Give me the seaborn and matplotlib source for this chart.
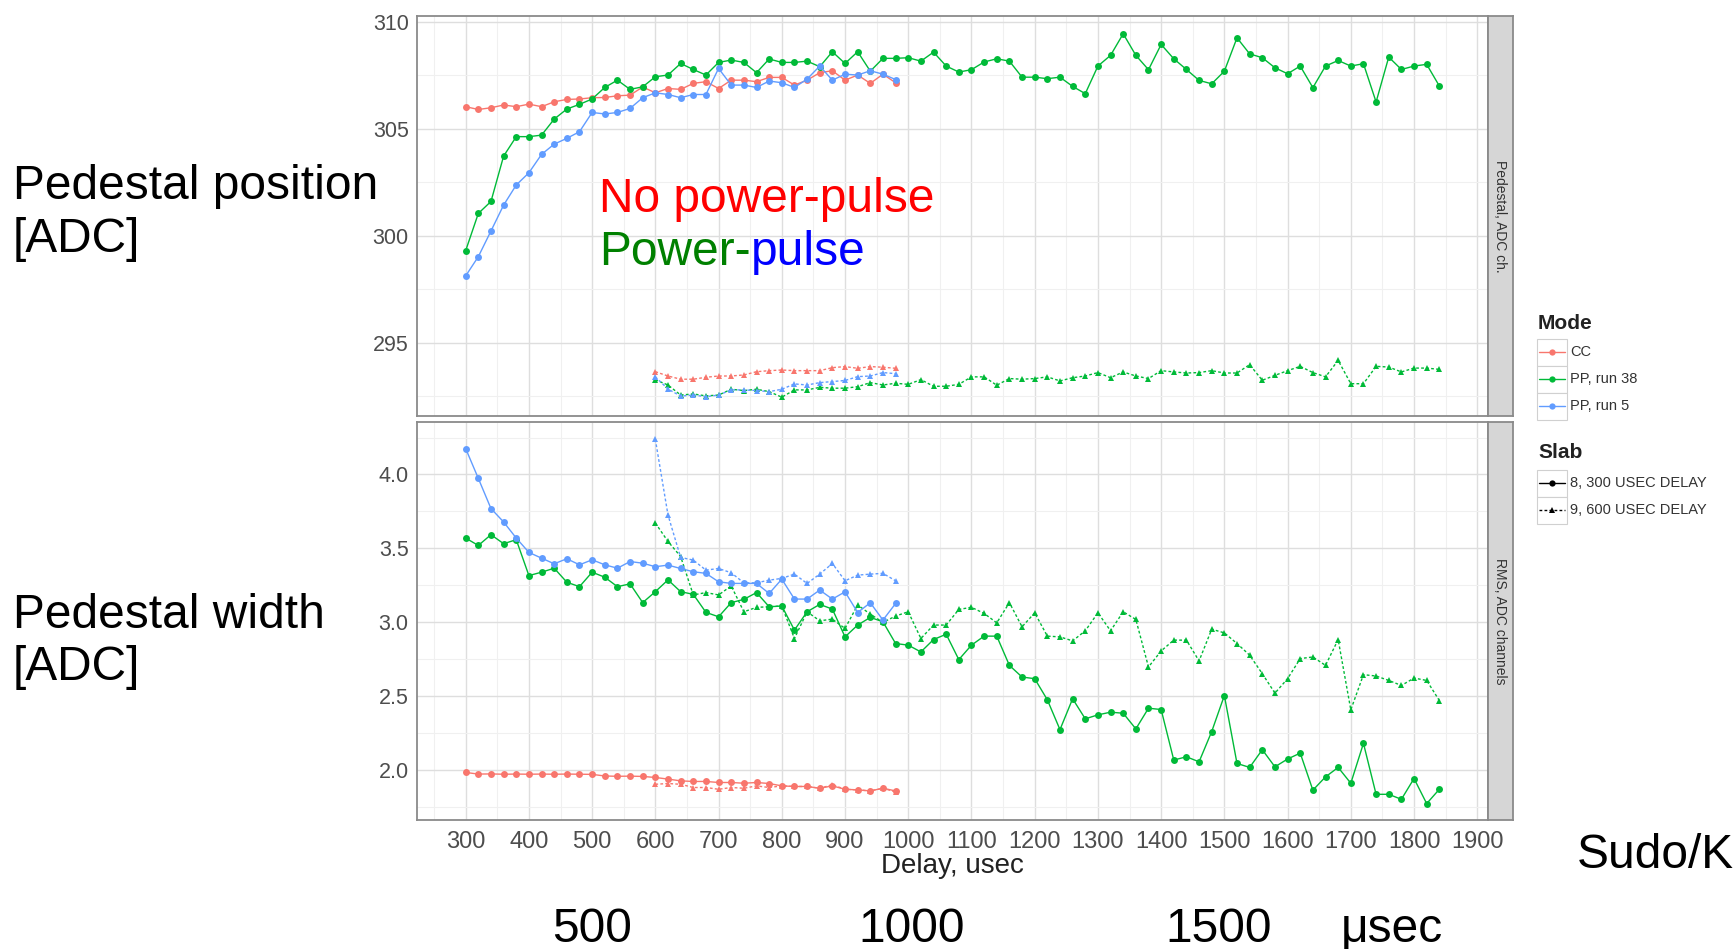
import numpy as np
import pandas as pd
import matplotlib
matplotlib.use("Agg")
import matplotlib.pyplot as plt
from matplotlib.lines import Line2D
from matplotlib.patches import Rectangle
from matplotlib.ticker import MultipleLocator, FixedLocator
import seaborn as sns

# ---------------- data ----------------
delay_8 = [300, 320, 340, 360, 380, 400, 420, 440, 460, 480, 500, 520, 540, 560, 580,
           600, 620, 640, 660, 680, 700, 720, 740, 760, 780, 800, 820, 840, 860, 880,
           900, 920, 940, 960, 980, 1000, 1020, 1040, 1060, 1080, 1100, 1120, 1140,
           1160, 1180, 1200, 1220, 1240, 1260, 1280, 1300, 1320, 1340, 1360, 1380,
           1400, 1420, 1440, 1460, 1480, 1500, 1520, 1540, 1560, 1580, 1600, 1620,
           1640, 1660, 1680, 1700, 1720, 1740, 1760, 1780, 1800, 1820, 1840]
delay_9 = delay_8[15:]          # slab 9 starts at 600 usec
n_short8 = 35                   # CC / PP run 5 measured up to 980 usec
n_short9 = 20

mode_levels = ["CC", "PP, run 38", "PP, run 5"]
slab_levels = ["8, 300 USEC DELAY", "9, 600 USEC DELAY"]
panel_labels = ["Pedestal, ADC ch.", "RMS, ADC channels"]

# Pedestal position, ADC ch.
pos_cc_8 = [306.03, 305.90, 305.98, 306.11, 306.03, 306.15, 306.03, 306.26, 306.37, 306.39,
            306.45, 306.46, 306.54, 306.57, 306.95, 306.68, 306.88, 306.84, 307.12, 307.20,
            306.88, 307.27, 307.27, 307.20, 307.40, 307.40, 307.04, 307.27, 307.62, 307.71,
            307.27, 307.51, 307.12, 307.55, 307.15]
pos_pp38_8 = [299.30, 301.04, 301.60, 303.72, 304.63, 304.63, 304.70, 305.45, 305.92, 306.14,
              306.39, 306.93, 307.27, 306.84, 306.96, 307.43, 307.51, 308.05, 307.77, 307.51,
              308.10, 308.21, 308.10, 307.62, 308.26, 308.10, 308.10, 308.16, 307.90, 308.60,
              308.05, 308.60, 307.69, 308.29, 308.29,
              308.32, 308.16, 308.58, 307.93, 307.65, 307.76, 308.12, 308.27, 308.16, 307.41,
              307.41, 307.34, 307.41, 306.98, 306.64, 307.93, 308.43, 309.44, 308.43, 307.76,
              308.94, 308.27, 307.77, 307.26, 307.10, 307.69, 309.25, 308.50, 308.32, 307.85,
              307.57, 307.93, 306.92, 307.93, 308.19, 307.93, 308.04, 306.25, 308.35, 307.77,
              307.93, 308.01, 307.00]
pos_pp5_8 = [298.12, 299.02, 300.22, 301.43, 302.37, 302.94, 303.80, 304.28, 304.55, 304.86,
             305.76, 305.69, 305.76, 305.95, 306.45, 306.68, 306.60, 306.45, 306.60, 306.60,
             307.82, 307.04, 307.04, 306.93, 307.23, 307.15, 306.93, 307.32, 307.93, 307.27,
             307.55, 307.51, 307.71, 307.55, 307.30]
pos_cc_9 = [293.64, 293.44, 293.29, 293.29, 293.38, 293.44, 293.44, 293.49, 293.64, 293.69,
            293.72, 293.69, 293.69, 293.69, 293.83, 293.88, 293.80, 293.88, 293.85, 293.80]
pos_pp38_9 = [293.26, 293.02, 292.55, 292.60, 292.51, 292.55, 292.82, 292.76, 292.82, 292.71,
              292.45, 292.79, 292.79, 292.91, 292.87, 292.87, 292.94, 293.13, 293.02, 293.10,
              293.05, 293.27, 292.96, 292.96, 293.05, 293.40, 293.40, 293.01, 293.32, 293.29,
              293.32, 293.40, 293.21, 293.36, 293.44, 293.60, 293.36, 293.63, 293.44, 293.32,
              293.69, 293.63, 293.58, 293.60, 293.69, 293.58, 293.58, 293.97, 293.24, 293.47,
              293.69, 293.89, 293.60, 293.40, 294.17, 293.08, 293.08, 293.89, 293.86, 293.63,
              293.81, 293.81, 293.75]
pos_pp5_9 = [293.40, 292.83, 292.50, 292.55, 292.47, 292.55, 292.79, 292.79, 292.76, 292.71,
             292.82, 293.07, 293.02, 293.13, 293.18, 293.23, 293.41, 293.44, 293.60, 293.55]

# Pedestal width (RMS), ADC channels
rms_cc_8 = [1.982, 1.971, 1.972, 1.970, 1.971, 1.970, 1.971, 1.970, 1.971, 1.970,
            1.969, 1.958, 1.956, 1.957, 1.955, 1.948, 1.937, 1.925, 1.921, 1.921,
            1.914, 1.914, 1.909, 1.914, 1.907, 1.891, 1.887, 1.887, 1.875, 1.891,
            1.868, 1.864, 1.857, 1.875, 1.857]
rms_pp38_8 = [3.569, 3.519, 3.592, 3.531, 3.558, 3.315, 3.338, 3.365, 3.270, 3.240,
              3.338, 3.304, 3.240, 3.259, 3.132, 3.206, 3.286, 3.206, 3.188, 3.066,
              3.036, 3.132, 3.154, 3.200, 3.104, 3.109, 2.946, 3.070, 3.120, 3.088,
              2.900, 2.980, 3.032, 3.002, 2.855,
              2.844, 2.798, 2.882, 2.918, 2.746, 2.844, 2.905, 2.905, 2.707, 2.628,
              2.617, 2.474, 2.272, 2.481, 2.345, 2.372, 2.390, 2.383, 2.277, 2.417,
              2.408, 2.066, 2.088, 2.054, 2.259, 2.503, 2.043, 2.016, 2.136, 2.020,
              2.073, 2.113, 1.862, 1.952, 2.016, 1.909, 2.179, 1.834, 1.834, 1.800,
              1.941, 1.771, 1.868]
rms_pp5_8 = [4.175, 3.973, 3.769, 3.678, 3.569, 3.472, 3.433, 3.395, 3.429, 3.388,
             3.422, 3.388, 3.365, 3.410, 3.399, 3.375, 3.386, 3.363, 3.341, 3.330,
             3.273, 3.262, 3.262, 3.262, 3.194, 3.291, 3.156, 3.156, 3.217, 3.156,
             3.205, 3.065, 3.131, 3.014, 3.126]
rms_cc_9 = [1.902, 1.907, 1.902, 1.880, 1.880, 1.868, 1.880, 1.875, 1.891, 1.880,
            1.891, 1.887, 1.887, 1.875, 1.898, 1.868, 1.864, 1.857, 1.875, 1.850]
rms_pp38_9 = [3.671, 3.546, 3.444, 3.184, 3.200, 3.184, 3.245, 3.070, 3.100, 3.104,
              3.109, 2.889, 3.070, 3.009, 3.020, 2.957, 3.116, 3.054, 2.998, 3.041,
              3.070, 2.889, 2.980, 2.980, 3.086, 3.100, 3.059, 2.995, 3.132, 2.968,
              3.063, 2.905, 2.900, 2.873, 2.941, 3.063, 2.941, 3.070, 3.018, 2.696,
              2.805, 2.878, 2.878, 2.737, 2.952, 2.927, 2.855, 2.776, 2.651, 2.519,
              2.617, 2.753, 2.764, 2.707, 2.882, 2.406, 2.644, 2.635, 2.605, 2.571,
              2.621, 2.605, 2.469]
rms_pp5_9 = [4.237, 3.725, 3.438, 3.420, 3.352, 3.363, 3.334, 3.266, 3.266, 3.284,
             3.296, 3.325, 3.262, 3.325, 3.397, 3.280, 3.318, 3.325, 3.330, 3.280]

# ---------------- long table ----------------
def block(x, y, mode, slab, panel):
    return pd.DataFrame({"delay": x, "value": y, "mode": mode, "slab": slab, "panel": panel})

frames = [
    block(delay_8[:n_short8], pos_cc_8, "CC", slab_levels[0], panel_labels[0]),
    block(delay_8, pos_pp38_8, "PP, run 38", slab_levels[0], panel_labels[0]),
    block(delay_8[:n_short8], pos_pp5_8, "PP, run 5", slab_levels[0], panel_labels[0]),
    block(delay_9[:n_short9], pos_cc_9, "CC", slab_levels[1], panel_labels[0]),
    block(delay_9, pos_pp38_9, "PP, run 38", slab_levels[1], panel_labels[0]),
    block(delay_9[:n_short9], pos_pp5_9, "PP, run 5", slab_levels[1], panel_labels[0]),
    block(delay_8[:n_short8], rms_cc_8, "CC", slab_levels[0], panel_labels[1]),
    block(delay_8, rms_pp38_8, "PP, run 38", slab_levels[0], panel_labels[1]),
    block(delay_8[:n_short8], rms_pp5_8, "PP, run 5", slab_levels[0], panel_labels[1]),
    block(delay_9[:n_short9], rms_cc_9, "CC", slab_levels[1], panel_labels[1]),
    block(delay_9, rms_pp38_9, "PP, run 38", slab_levels[1], panel_labels[1]),
    block(delay_9[:n_short9], rms_pp5_9, "PP, run 5", slab_levels[1], panel_labels[1]),
]
df = pd.concat(frames, ignore_index=True)

# ---------------- styling ----------------
sns.set_style("white")
plt.rcParams["font.family"] = ["Liberation Sans", "DejaVu Sans"]

palette = {"CC": "#F8766D", "PP, run 38": "#00BA38", "PP, run 5": "#619CFF"}
markers = {slab_levels[0]: "o", slab_levels[1]: "^"}
dashes = {slab_levels[0]: "", slab_levels[1]: (2, 1.6)}

W, H = 1734, 949
fig = plt.figure(figsize=(W / 100, H / 100), dpi=100)
fig.patch.set_facecolor("white")

def fx(px):
    return px / W

def fy(py):
    return 1 - py / H

L, R = 417, 1488
panels = [(16, 416), (422, 820)]
ylims = [(291.57, 310.27), (1.66, 4.355)]
yticks = [[295, 300, 305, 310], [2.0, 2.5, 3.0, 3.5, 4.0]]
yminor = [[292.5, 297.5, 302.5, 307.5], [1.75, 2.25, 2.75, 3.25, 3.75, 4.25]]
ylabels_fmt = ["{:.0f}", "{:.1f}"]
border_c = "#8A8A8A"

axes = []
for i, (top, bot) in enumerate(panels):
    ax = fig.add_axes([fx(L), fy(bot), fx(R) - fx(L), (bot - top) / H])
    sub = df[df["panel"] == panel_labels[i]]
    sns.lineplot(data=sub, x="delay", y="value", hue="mode", style="slab",
                 hue_order=mode_levels, style_order=slab_levels,
                 palette=palette, markers=markers, dashes=dashes,
                 estimator=None, sort=True, legend=False, ax=ax,
                 linewidth=1.0, markersize=5, markeredgewidth=0)
    ax.set_xlim(223, 1917)
    ax.set_ylim(*ylims[i])
    ax.xaxis.set_major_locator(MultipleLocator(100))
    ax.xaxis.set_minor_locator(MultipleLocator(50))
    ax.yaxis.set_major_locator(FixedLocator(yticks[i]))
    ax.yaxis.set_minor_locator(FixedLocator(yminor[i]))
    ax.set_yticklabels([ylabels_fmt[i].format(v) for v in yticks[i]])
    ax.grid(which="major", color="#DEDEDE", linewidth=1.0)
    ax.grid(which="minor", color="#F0F0F0", linewidth=0.8)
    ax.set_axisbelow(True)
    for s in ax.spines.values():
        s.set_color(border_c)
        s.set_linewidth(1.3)
    ax.tick_params(which="minor", length=0)
    ax.tick_params(axis="y", which="major", length=4, width=1, color=border_c,
                   labelsize=15.5, labelcolor="#4D4D4D", pad=2)
    ax.set_xlabel("")
    ax.set_ylabel("")
    axes.append(ax)

    # facet strip on the right
    sax = fig.add_axes([fx(R), fy(bot), fx(1513) - fx(R), (bot - top) / H])
    sax.set_facecolor("#D6D6D6")
    sax.set_xticks([])
    sax.set_yticks([])
    for s in sax.spines.values():
        s.set_color(border_c)
        s.set_linewidth(1.3)
    sax.text(0.5, 0.5, panel_labels[i], rotation=270, ha="center", va="center",
             fontsize=10, color="#333333", transform=sax.transAxes)

axes[0].tick_params(axis="x", which="both", length=0, labelbottom=False)
axes[1].tick_params(axis="x", which="major", length=5, width=1, color=border_c,
                    labelsize=17, labelcolor="#4D4D4D", pad=3)
axes[1].set_xlabel("Delay, usec", fontsize=20, color="#222222", labelpad=0)

# ---------------- manual legend (ggplot style) ----------------
def key_box(y_top, h=27):
    fig.patches.append(Rectangle((fx(1537), fy(y_top + h)), fx(1567) - fx(1537), h / H,
                                 transform=fig.transFigure, facecolor="white",
                                 edgecolor="#D0D0D0", linewidth=0.8))

fig.text(fx(1538), fy(323), "Mode", fontsize=15, fontweight="bold", color="#222222",
         va="center", ha="left")
for j, m in enumerate(mode_levels):
    yc = 352 + j * 27
    key_box(yc - 13.5)
    fig.lines.append(Line2D([fx(1539), fx(1565)], [fy(yc), fy(yc)], transform=fig.transFigure,
                            color=palette[m], linewidth=1.0, marker=None))
    fig.lines.append(Line2D([fx(1552)], [fy(yc)], transform=fig.transFigure,
                            color=palette[m], marker="o", markersize=4.5, markeredgewidth=0))
    fig.text(fx(1570), fy(yc), m, fontsize=10.5, color="#333333", va="center", ha="left")

fig.text(fx(1538), fy(453), "Slab", fontsize=15, fontweight="bold", color="#222222",
         va="center", ha="left")
for j, s in enumerate(slab_levels):
    yc = 483 + j * 27
    key_box(yc - 13.5)
    ls = "-" if j == 0 else (0, (2, 1.6))
    fig.lines.append(Line2D([fx(1539), fx(1565)], [fy(yc), fy(yc)], transform=fig.transFigure,
                            color="black", linewidth=1.0, linestyle=ls))
    fig.lines.append(Line2D([fx(1552)], [fy(yc)], transform=fig.transFigure,
                            color="black", marker=markers[s], markersize=4.5, markeredgewidth=0))
    fig.text(fx(1570), fy(yc), s, fontsize=10.5, color="#333333", va="center", ha="left")

# ---------------- slide annotations ----------------
big = 34.5
fig.text(fx(13), fy(199), "Pedestal position", fontsize=big, color="black", va="baseline")
fig.text(fx(13), fy(252), "[ADC]", fontsize=big, color="black", va="baseline")
fig.text(fx(13), fy(628), "Pedestal width", fontsize=big, color="black", va="baseline")
fig.text(fx(13), fy(680), "[ADC]", fontsize=big, color="black", va="baseline")

fig.text(fx(599), fy(212), "No power-pulse", fontsize=big, color="#FF0000", va="baseline")
t_pow = fig.text(fx(599), fy(265), "Power-", fontsize=big, color="#008000", va="baseline")
fig.canvas.draw()
bb = t_pow.get_window_extent(renderer=fig.canvas.get_renderer())
fig.text(bb.x1 / W, fy(265), "pulse", fontsize=big, color="#0000FF", va="baseline")

fig.text(fx(1577), fy(868), "Sudo/K", fontsize=big, color="black", va="baseline")
for label, xc in [("500", 592), ("1000", 912), ("1500", 1219), ("\u03bcsec", 1392)]:
    fig.text(fx(xc), fy(942), label, fontsize=big, color="black", va="baseline", ha="center")

fig.savefig("out.png", dpi=100, facecolor="white")
